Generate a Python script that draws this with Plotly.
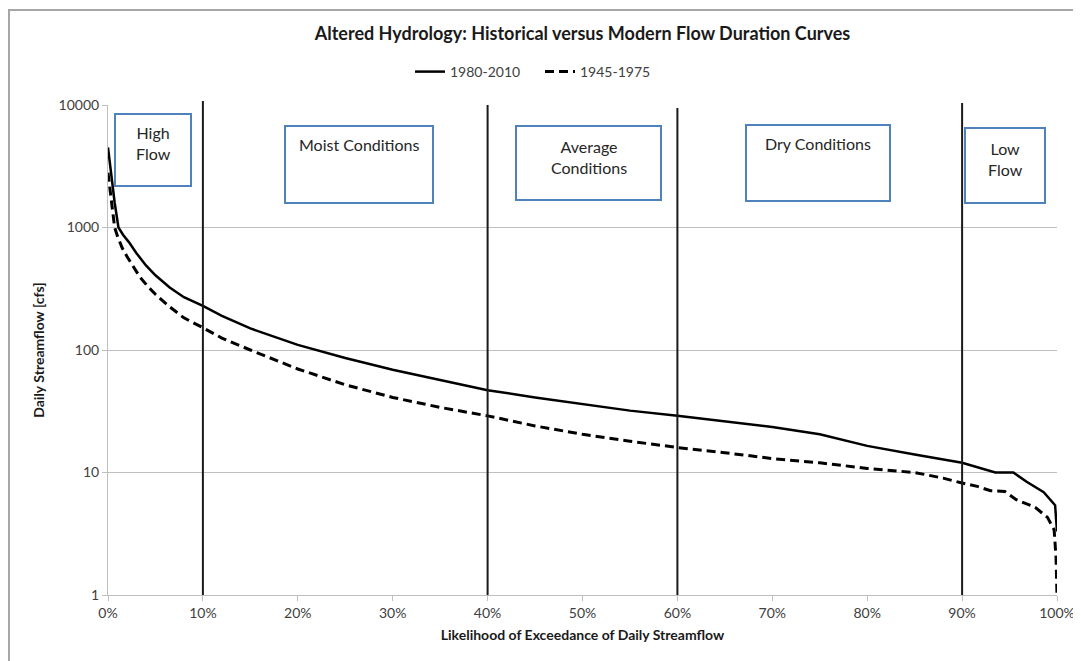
import plotly.graph_objects as go

# ---- data ----
pct_modern = [0, 0.2, 0.4, 0.7, 1.1, 1.6, 2.2, 3.0, 4.0, 5.0, 6.5, 8, 10, 12, 15, 20, 25, 30, 35, 40, 45, 50,
              55, 60, 65, 70, 75, 80, 85, 90, 93.5, 95.4, 96.8, 98.6, 99.8, 100]
flow_modern = [4500, 3300, 2400, 1600, 1000, 870, 760, 617, 490, 407, 324, 270, 229, 190, 150, 110, 86, 69, 57, 47, 41, 36,
               32, 29, 26, 23.5, 20.5, 16.5, 14, 12, 10, 10, 8.4, 6.9, 5.4, 3.3]

pct_hist = [0, 0.15, 0.3, 0.5, 0.7, 1.0, 1.5, 2.0, 2.5, 3.4, 4.2, 5, 6.5, 8, 10, 12, 15, 20, 25, 30, 35, 40, 45, 50,
            55, 60, 65, 70, 75, 80, 85, 88, 90, 91.6, 93, 94.5, 95.7, 97.7, 99, 99.7, 99.9, 100]
flow_hist = [2800, 2200, 1700, 1300, 1000, 850, 680, 580, 500, 390, 330, 285, 225, 183, 152, 125, 100, 70, 52, 41, 34, 29, 24, 20.5,
             18, 16, 14.5, 13, 12, 10.8, 10, 9, 8.2, 7.7, 7.1, 7, 6, 5.2, 4.3, 3.4, 2, 1]

series_names = ["1980-2010", "1945-1975"]
boundaries = [10, 40, 60, 90]
zone_labels = ["High<br>Flow", "Moist Conditions", "Average<br>Conditions", "Dry Conditions", "Low<br>Flow"]
y_ticks = [1, 10, 100, 1000, 10000]
x_ticks = [0, 10, 20, 30, 40, 50, 60, 70, 80, 90, 100]

# ---- geometry (screen pixels; the page body adds an 8px offset) ----
OFF = 8
W, H = 1081 - OFF, 661 - OFF
L, R, T, B = 108 - OFF, 1057 - OFF, 105 - OFF, 595 - OFF
def px(x):
    return (x - OFF - L) / (R - L)
def py(y):
    return 1 - (y - OFF - T) / (B - T)

FONT = "Lato"
fig = go.Figure()
fig.add_trace(go.Scatter(x=pct_modern, y=flow_modern, mode="lines", name=series_names[0],
                         line=dict(color="black", width=2.5)))
fig.add_trace(go.Scatter(x=pct_hist, y=flow_hist, mode="lines", name=series_names[1],
                         line=dict(color="black", width=3, dash="9px,5px")))

shapes = []
# outer frame
shapes.append(dict(type="rect", xref="paper", yref="paper", x0=px(9), x1=px(1095), y0=py(680), y1=py(10),
                   line=dict(color="#A6A6A6", width=2), fillcolor="rgba(0,0,0,0)", layer="below"))
# boundary lines
tops = [101, 105, 108, 103]
for b, t in zip(boundaries, tops):
    shapes.append(dict(type="line", xref="x", yref="paper", x0=b, x1=b, y0=0, y1=py(t),
                       line=dict(color="#1a1a1a", width=2)))

# zone boxes (screen-pixel boxes) and text
boxes = [(115, 191, 114, 186), (285, 433, 126, 203), (516, 661, 126, 200), (746, 890, 125, 201), (965, 1045, 128, 203)]
text_y = [121, 133, 135, 132, 137]
annotations = []
for (x0, x1, y0, y1), lab, ty in zip(boxes, zone_labels, text_y):
    shapes.append(dict(type="rect", xref="paper", yref="paper", x0=px(x0), x1=px(x1), y0=py(y1), y1=py(y0),
                       line=dict(color="#4F81BD", width=2), fillcolor="white"))
    annotations.append(dict(xref="paper", yref="paper", x=px((x0 + x1) / 2), y=py(ty), text=lab,
                            showarrow=False, xanchor="center", yanchor="top",
                            font=dict(family=FONT, size=16, color="#262626")))

fig.update_layout(
    width=W, height=H,
    margin=dict(l=L, r=W - R, t=T, b=H - B, autoexpand=False),
    paper_bgcolor="white", plot_bgcolor="white",
    title=dict(text="<b>Altered Hydrology: Historical versus Modern Flow Duration Curves</b>",
               x=0.5, xref="paper", xanchor="center", y=1 - (34 - OFF) / H, yanchor="middle",
               font=dict(family=FONT, size=18, color="#1a1a1a")),
    legend=dict(orientation="h", x=(540 - OFF) / W, xanchor="center", xref="container",
                y=1 - (72 - OFF) / H, yref="container",
                yanchor="middle", font=dict(family=FONT, size=14, color="#404040"),
                bgcolor="rgba(0,0,0,0)", entrywidth=85, entrywidthmode="pixels"),
    shapes=shapes, annotations=annotations,
    xaxis=dict(range=[0, 100], tickvals=x_ticks, ticktext=[f"{v}%" for v in x_ticks], showgrid=False,
               showline=True, linecolor="#BFBFBF", linewidth=1, ticks="outside", ticklen=5,
               tickcolor="#BFBFBF", zeroline=False, automargin=False,
               tickfont=dict(family=FONT, size=14, color="#404040"),
               title=dict(text="<b>Likelihood of Exceedance of Daily Streamflow</b>", standoff=10,
                          font=dict(family=FONT, size=14, color="#1a1a1a"))),
    yaxis=dict(type="log", range=[0, 4], tickvals=y_ticks, ticktext=[str(v) for v in y_ticks],
               showgrid=True, gridcolor="#BFBFBF", gridwidth=1,
               showline=True, linecolor="#BFBFBF", linewidth=1, ticks="outside", ticklen=5,
               tickcolor="#BFBFBF", zeroline=False, automargin=False,
               tickfont=dict(family=FONT, size=14, color="#404040"),
               title=dict(text="<b>Daily Streamflow [cfs]</b>", standoff=10,
                          font=dict(family=FONT, size=14, color="#1a1a1a"))),
    showlegend=True,
)
fig.write_html("out.html")
